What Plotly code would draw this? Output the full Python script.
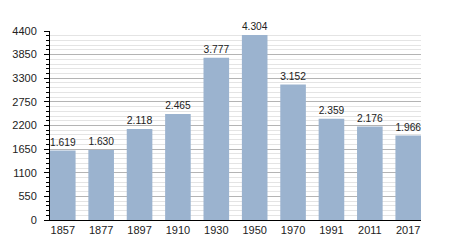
import plotly.graph_objects as go

years = ["1857", "1877", "1897", "1910", "1930", "1950", "1970", "1991", "2011", "2017"]
population = [1619, 1630, 2118, 2465, 3777, 4304, 3152, 2359, 2176, 1966]
y_ticks = [0, 550, 1100, 1650, 2200, 2750, 3300, 3850, 4400]

labels = [f"{v:,}".replace(",", ".") for v in population]

fig = go.Figure(go.Bar(
    x=years, y=population,
    marker=dict(color="#9bb3cf", line=dict(width=0)),
    text=labels, textposition="outside", cliponaxis=False,
    textfont=dict(family="Liberation Sans, Arial, sans-serif", size=11, color="#222"),
))

fig.update_layout(
    width=450, height=250,
    margin=dict(l=50, r=29, t=31, b=30),
    paper_bgcolor="white", plot_bgcolor="white",
    bargap=0.333,
    showlegend=False,
    font=dict(family="Liberation Sans, Arial, sans-serif", size=11, color="#222"),
)
fig.update_xaxes(
    type="category", range=[-0.333, 9.333],
    showline=True, linecolor="black", linewidth=1,
    ticks="", showgrid=False, tickfont=dict(size=11, color="#222"),
)
fig.update_yaxes(
    range=[0, 4400], tickvals=y_ticks, ticktext=[str(v) for v in y_ticks],
    showline=True, linecolor="black", linewidth=1,
    ticks="outside", ticklen=5, tickcolor="black",
    ticklabelstandoff=5,
    showgrid=True, gridcolor="#b4b4b4", gridwidth=1,
    zeroline=False,
    minor=dict(dtick=110, tick0=0, showgrid=True, gridcolor="#e4e4e4",
               ticks="outside", ticklen=3, tickcolor="black"),
    tickfont=dict(size=11, color="#222"),
)

fig.write_html("out.html")
